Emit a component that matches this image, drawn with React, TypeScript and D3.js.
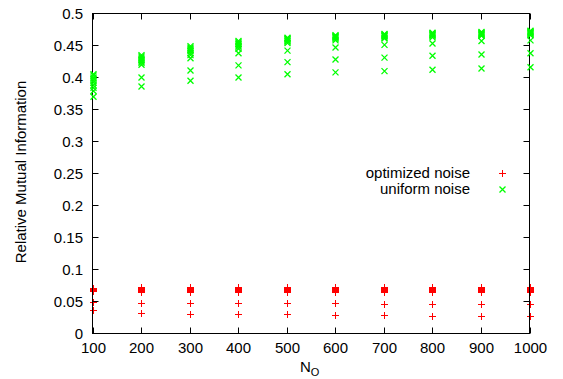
import React, { useEffect, useRef } from "react";
import * as d3 from "d3";

// N_O values on the x axis
const nValues = [100, 200, 300, 400, 500, 600, 700, 800, 900, 1000];

// relative mutual information, one row of runs per N_O
const optimizedNoise = [
  [0.071, 0.070, 0.069, 0.068, 0.067, 0.066, 0.050, 0.036],
  [0.073, 0.072, 0.071, 0.070, 0.069, 0.068, 0.067, 0.066, 0.065, 0.048, 0.032],
  [0.073, 0.072, 0.071, 0.070, 0.069, 0.068, 0.067, 0.066, 0.065, 0.048, 0.031],
  [0.073, 0.072, 0.071, 0.070, 0.069, 0.068, 0.067, 0.066, 0.065, 0.047, 0.030],
  [0.073, 0.072, 0.071, 0.070, 0.069, 0.068, 0.067, 0.066, 0.065, 0.047, 0.030],
  [0.073, 0.072, 0.071, 0.070, 0.069, 0.068, 0.067, 0.066, 0.065, 0.047, 0.029],
  [0.073, 0.072, 0.071, 0.070, 0.069, 0.068, 0.067, 0.066, 0.065, 0.046, 0.029],
  [0.073, 0.072, 0.071, 0.070, 0.069, 0.068, 0.067, 0.066, 0.065, 0.046, 0.028],
  [0.073, 0.072, 0.071, 0.070, 0.069, 0.068, 0.067, 0.066, 0.065, 0.046, 0.028],
  [0.073, 0.072, 0.071, 0.070, 0.069, 0.068, 0.067, 0.066, 0.065, 0.046, 0.0275],
];

const uniformNoise = [
  [0.405, 0.403, 0.400, 0.398, 0.395, 0.392, 0.388, 0.384, 0.379, 0.370],
  [0.435, 0.433, 0.431, 0.429, 0.427, 0.425, 0.423, 0.420, 0.400, 0.386],
  [0.449, 0.447, 0.445, 0.443, 0.441, 0.438, 0.435, 0.430, 0.411, 0.395],
  [0.457, 0.455, 0.453, 0.452, 0.450, 0.448, 0.445, 0.438, 0.419, 0.400],
  [0.462, 0.461, 0.460, 0.459, 0.457, 0.456, 0.454, 0.442, 0.424, 0.405],
  [0.466, 0.465, 0.464, 0.463, 0.462, 0.460, 0.458, 0.447, 0.428, 0.408],
  [0.468, 0.467, 0.466, 0.465, 0.464, 0.462, 0.461, 0.451, 0.431, 0.410],
  [0.470, 0.469, 0.468, 0.467, 0.466, 0.465, 0.463, 0.453, 0.434, 0.412],
  [0.471, 0.470, 0.469, 0.468, 0.467, 0.466, 0.465, 0.457, 0.436, 0.414],
  [0.473, 0.472, 0.471, 0.470, 0.469, 0.468, 0.466, 0.458, 0.438, 0.416],
];

const yTicks = [0, 0.05, 0.1, 0.15, 0.2, 0.25, 0.3, 0.35, 0.4, 0.45, 0.5];
const seriesLabels = ["optimized noise", "uniform noise"];

const App = () => {
  const ref = useRef<SVGSVGElement | null>(null);

  useEffect(() => {
    if (!ref.current) return;
    const width = 563, height = 379;
    const left = 92.5, right = 529.5, top = 13.5, bottom = 333.5;
    const font = "'Liberation Sans', Arial, sans-serif";
    const tickLen = 6;

    const svg = d3.select(ref.current);
    svg.selectAll("*").remove();
    svg.attr("width", width).attr("height", height);

    const x = d3.scaleLinear().domain([100, 1000]).range([left, right]);
    const y = d3.scaleLinear().domain([0, 0.5]).range([bottom, top]);

    const flat = (rows: number[][]) =>
      rows.flatMap((vals, i) => vals.map((v) => ({ n: nValues[i], v })));

    const drawPlus = (g: any, cx: number, cy: number) => {
      g.append("path")
        .attr("d", `M${cx - 3.5},${cy}H${cx + 3.5}M${cx},${cy - 3.5}V${cy + 3.5}`)
        .attr("stroke", "#ff0000").attr("stroke-width", 1).attr("fill", "none");
    };
    const drawCross = (g: any, cx: number, cy: number) => {
      g.append("path")
        .attr("d", `M${cx - 3},${cy - 3}L${cx + 3},${cy + 3}M${cx - 3},${cy + 3}L${cx + 3},${cy - 3}`)
        .attr("stroke", "#00ff00").attr("stroke-width", 1.3).attr("fill", "none");
    };

    // optimized noise points (under the border)
    const red = svg.append("g");
    flat(optimizedNoise).forEach((d) => drawPlus(red, Math.round(x(d.n)) + 0.5, Math.round(y(d.v)) + 0.5));

    // border
    svg.append("rect")
      .attr("x", left).attr("y", top)
      .attr("width", right - left).attr("height", bottom - top)
      .attr("fill", "none").attr("stroke", "black").attr("stroke-width", 1);

    // x ticks, top and bottom
    nValues.forEach((n) => {
      const px = Math.round(x(n)) + 0.5;
      svg.append("path")
        .attr("d", `M${px},${bottom}V${bottom - tickLen}M${px},${top}V${top + tickLen}`)
        .attr("stroke", "black");
      svg.append("text")
        .attr("x", px).attr("y", 353)
        .attr("text-anchor", "middle")
        .attr("font-family", font).attr("font-size", 15)
        .text(n);
    });

    // y ticks, left and right
    yTicks.forEach((t) => {
      const py = y(t);
      svg.append("path")
        .attr("d", `M${left},${py}H${left + tickLen}M${right},${py}H${right - tickLen}`)
        .attr("stroke", "black");
      svg.append("text")
        .attr("x", 83).attr("y", py + 5.5)
        .attr("text-anchor", "end")
        .attr("font-family", font).attr("font-size", 15)
        .text(d3.format("~g")(t));
    });

    // uniform noise points
    const green = svg.append("g");
    flat(uniformNoise).forEach((d) => drawCross(green, Math.round(x(d.n)) + 0.5, y(d.v)));

    // legend
    seriesLabels.forEach((label, i) => {
      svg.append("text")
        .attr("x", 470).attr("y", 178 + i * 16)
        .attr("text-anchor", "end")
        .attr("font-family", font).attr("font-size", 15)
        .text(label);
    });
    drawPlus(svg, 502.5, 173.5);
    drawCross(svg, 502.5, 189.5);

    // axis titles
    svg.append("text")
      .attr("transform", "translate(26,172) rotate(-90)")
      .attr("text-anchor", "middle")
      .attr("font-family", font).attr("font-size", 15)
      .text("Relative Mutual Information");

    const xt = svg.append("text")
      .attr("x", 300).attr("y", 372)
      .attr("font-family", font).attr("font-size", 15);
    xt.append("tspan").text("N");
    xt.append("tspan").attr("dy", 4).attr("font-size", 11).text("O");
  }, []);

  return (
    <svg
      ref={ref}
      style={{ position: "absolute", left: 0, top: 0, background: "white" }}
    ></svg>
  );
};

export default App;
